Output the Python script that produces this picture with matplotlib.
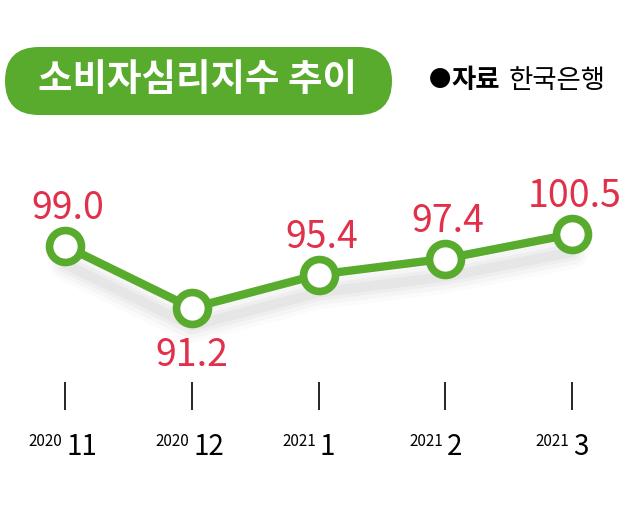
import matplotlib.pyplot as plt
import matplotlib.transforms as mtransforms
from matplotlib.patches import FancyBboxPatch

plt.rcParams['font.family'] = ['Noto Sans CJK KR', 'DejaVu Sans']

# data
years = ['2020', '2020', '2021', '2021', '2021']
months = ['11', '12', '1', '2', '3']
values = [99.0, 91.2, 95.4, 97.4, 100.5]
label_above = [True, False, True, True, True]

title = '소비자심리지수 추이'
source_bold = '자료'
source_text = '한국은행'

green = '#58ab2d'
red = '#e0304a'

fig = plt.figure(figsize=(6.4, 5.12), dpi=100)

# overlay axes in pixel coordinates for decorations
deco = fig.add_axes([0, 0, 1, 1])
deco.set_xlim(0, 640)
deco.set_ylim(512, 0)
deco.axis('off')

# main data axes
ax = fig.add_axes([0, 0, 1, 1])
ax.patch.set_alpha(0)
ax.axis('off')
ax.set_xlim(-0.513, 4.536)
ax.set_ylim(65.54, 129.94)

x = list(range(len(values)))

# soft shadow under the line
for lw, a in [(24, 0.025), (18, 0.035), (12, 0.045), (7, 0.05)]:
    off = mtransforms.offset_copy(ax.transData, fig=fig, x=0, y=-18, units='dots')
    ax.plot(x, values, color='#555555', lw=lw, alpha=a, solid_capstyle='round',
            transform=off, zorder=1)

ax.plot(x, values, color=green, lw=6, zorder=2)
ax.plot(x, values, 'o', ms=23, mfc='white', mec=green, mew=5.5, zorder=3)

for xi, v, up in zip(x, values, label_above):
    if up:
        ax.annotate(f'{v:.1f}', (xi, v), xytext=(2, 13), textcoords='offset points',
                    ha='center', va='bottom', color=red, fontsize=27)
    else:
        ax.annotate(f'{v:.1f}', (xi, v), xytext=(0, -20), textcoords='offset points',
                    ha='center', va='top', color=red, fontsize=27)

# ticks and labels
blend = mtransforms.blended_transform_factory(ax.transData, deco.transData)
ax.vlines(x, 382, 410, color='black', lw=1.2, transform=blend)
for xi, yr, mo in zip(x, years, months):
    ax.text(xi - 0.02, 441, yr, transform=blend, ha='right', va='center', fontsize=11)
    ax.text(xi + 0.01, 447, mo, transform=blend, ha='left', va='center', fontsize=20,
            fontweight='light')

# title pill
pill = FancyBboxPatch((5, 47), 387, 68, boxstyle='round,pad=0,rounding_size=34',
                      fc=green, ec='none')
deco.add_patch(pill)
deco.text(197, 80, title, ha='center', va='center', color='white',
          fontsize=27, fontweight='bold')

# source
deco.text(429, 80, '●', ha='left', va='center', fontsize=16, color='black')
deco.text(451, 80, source_bold, ha='left', va='center', fontsize=19, fontweight='bold')
deco.text(509, 80, source_text, ha='left', va='center', fontsize=19)

fig.savefig('out.png', dpi=100)
